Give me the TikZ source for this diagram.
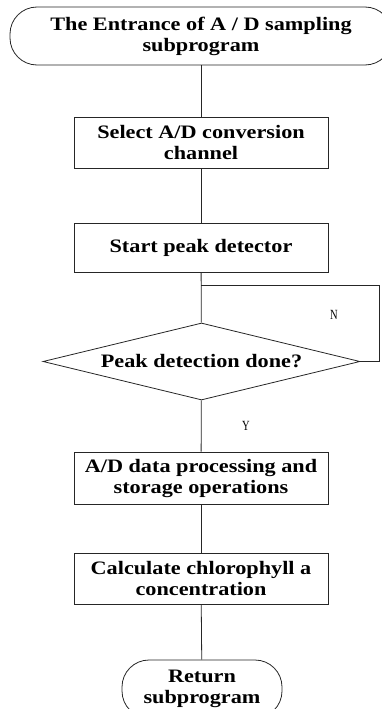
\documentclass[tikz,border=0pt]{standalone}
\usepackage{fontspec}
\setmainfont[FakeStretch=1.17]{Liberation Serif}
\newfontfamily\ynfont[FakeStretch=0.75]{Liberation Serif}
\usetikzlibrary{shapes.geometric}

\begin{document}
\begin{tikzpicture}[x=1pt,y=-1pt]
\tikzset{every node/.style={font=\bfseries\fontsize{19}{21}\selectfont,align=center,inner sep=0pt}}
\tikzset{line/.style={draw=black!85,line width=0.8pt}}
\tikzset{terminal/.style={line,rectangle,rounded corners=27pt,minimum height=58pt}}
\tikzset{block/.style={line,rectangle,minimum width=254pt}}
\tikzset{decision/.style={line,diamond,aspect=4.1,minimum width=317pt,minimum height=77pt}}
\tikzset{yn/.style={font=\ynfont\fontsize{14}{14}\selectfont}}
%\tikzset{execute at begin node=\strut}
\useasboundingbox (0,0) rectangle (382,709);
\node[terminal,minimum width=382pt] (entry) at (201,36) {The Entrance of A / D sampling\\subprogram};
\node[block,minimum height=51pt] (channel) at (201,142.5) {Select A/D conversion\\channel};
\node[block,minimum height=49pt] (peak) at (201,247.5) {Start peak detector};
\node[decision] (done) at (201.5,361.5) {Peak detection done?};
\node[block,minimum height=52pt] (store) at (201,478) {A/D data processing and\\storage operations};
\node[block,minimum height=51pt] (calc) at (201,578.5) {Calculate chlorophyll a\\concentration};
\node[terminal,minimum width=160pt] (ret) at (202,689) {Return\\subprogram};
\node[yn] (no) at (334,315) {N};
\node[yn] (yes) at (246,426) {Y};
\coordinate (fork) at (201,285);
\coordinate (side) at (379,285);
\draw[line] (entry) -- (channel);
\draw[line] (channel) -- (peak);
\draw[line] (peak) -- (done);
\draw[line] (done.east) -| (side) -- (fork);
\draw[line] (done) -- (store);
\draw[line] (store) -- (calc);
\draw[line] (calc) -- (ret);
\end{tikzpicture}
\end{document}
